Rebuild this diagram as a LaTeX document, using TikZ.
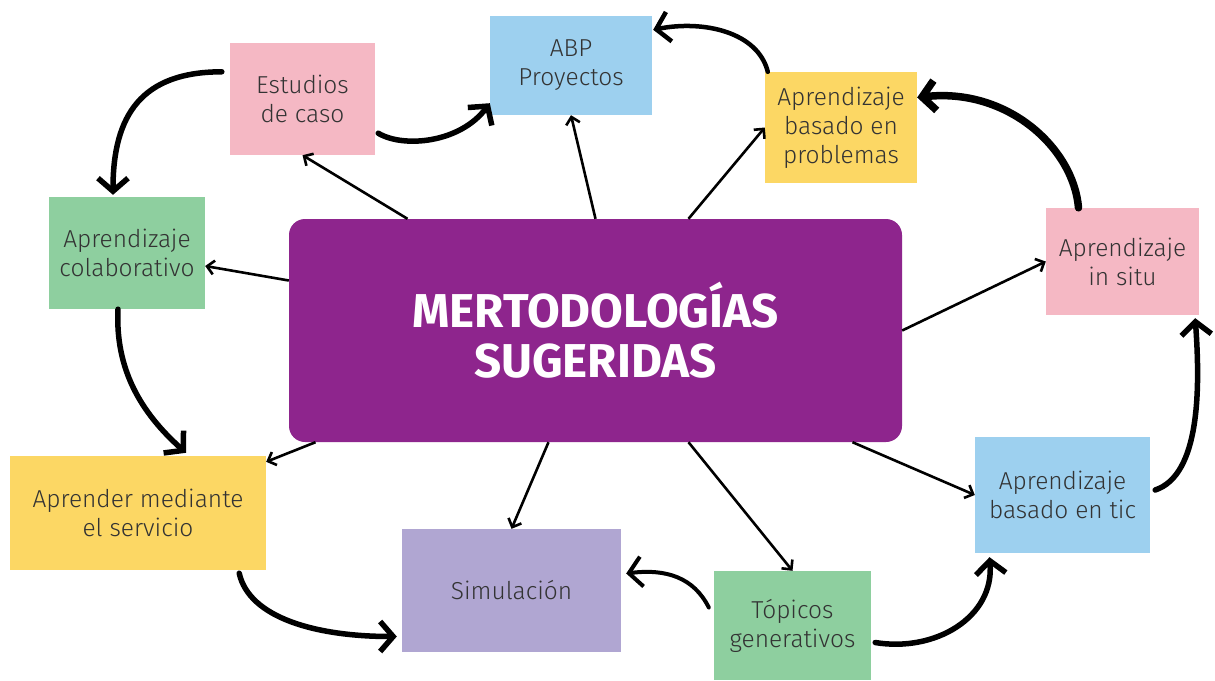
\documentclass[tikz,border=0pt]{standalone}
\usepackage{fontspec}
\setmainfont{Fira Sans}[UprightFont=* Light, BoldFont=* Bold]
\usetikzlibrary{arrows.meta}
\definecolor{rosa}{HTML}{F5B8C4}
\definecolor{celeste}{HTML}{9DD0EF}
\definecolor{amarillo}{HTML}{FCD764}
\definecolor{verde}{HTML}{8ECF9F}
\definecolor{lila}{HTML}{B0A6D2}
\definecolor{morado}{HTML}{8E258D}
\definecolor{gristexto}{HTML}{333333}
\tikzset{
  caja/.style={fill=#1, text=gristexto, align=center, inner sep=0pt,
    font=\fontsize{24.5}{29}\selectfont},
  flecha/.style={line width=2.6pt, -{Straight Barb[length=7pt,width=14pt]}},
  curva/.style={line width=5.5pt, line cap=round,
    -{Straight Barb[length=13pt,width=30pt]}},
}

\begin{document}
\begin{tikzpicture}[x=1pt,y=-1pt]
    \fill[white] (0,0) rectangle (1215,680);
    \useasboundingbox (0,0) rectangle (1215,680);
    % recuadros
    \node[fill=morado, rounded corners=16pt, minimum width=613pt, minimum height=223pt,
      text=white, align=center, font=\bfseries\fontsize{47.5}{50}\selectfont] (mid) at (595.5,330.5) {MERTODOLOGÍAS\\SUGERIDAS};
    \node[caja=rosa, minimum width=145pt, minimum height=112pt] (estudios) at (302.5,99) {Estudios\\de caso};
    \node[caja=celeste, minimum width=162pt, minimum height=99pt] (abp) at (571,65.5) {ABP\\Proyectos};
    \node[caja=amarillo, minimum width=152pt, minimum height=111pt] (problemas) at (841,127.5) {Aprendizaje\\basado en\\problemas};
    \node[caja=verde, minimum width=156pt, minimum height=112pt] (colab) at (127,253) {Aprendizaje\\colaborativo};
    \node[caja=rosa, minimum width=153pt, minimum height=107pt] (insitu) at (1122.5,261.5) {Aprendizaje\\in situ};
    \node[caja=amarillo, minimum width=256pt, minimum height=114pt] (aprender) at (138,513) {Aprender mediante\\el servicio};
    \node[caja=lila, minimum width=219pt, minimum height=123pt] (simul) at (511.5,590.5) {Simulación};
    \node[caja=verde, minimum width=157pt, minimum height=109pt] (topicos) at (792.5,625.5) {Tópicos\\generativos};
    \node[caja=celeste, minimum width=175pt, minimum height=116pt] (tic) at (1062.5,495) {Aprendizaje\\basado en tic};
    % flechas desde el centro
    \draw[flecha] ([xshift=-188pt]mid.north) -- (estudios.south);
    \draw[flecha] (mid.north) -- (abp.south);
    \draw[flecha] ([xshift=93pt]mid.north) -- (problemas.west);
    \draw[flecha] ([shift={(0,-50)}]mid.west) -- ([shift={(0,13)}]colab.east);
    \draw[flecha] (mid.east) -- (insitu.west);
    \draw[flecha] ([xshift=-280pt]mid.south) -- ([shift={(0,6)}]aprender.north east);
    \draw[flecha] ([xshift=-47pt]mid.south) -- (simul.north);
    \draw[flecha] ([xshift=93pt]mid.south) -- (topicos.north);
    \draw[flecha] ([xshift=257pt]mid.south) -- (tic.west);
    % ciclo exterior
    \draw[curva] ([shift={(-8,29)}]estudios.north west) .. controls +(-80,0) and +(0,-80) .. ([shift={(-14,-2)}]colab.north);
    \draw[curva] ([shift={(-9,0)}]colab.south) .. controls +(-3,60) and +(-45,-40) .. ([shift={(48,-3)}]aprender.north);
    \draw[curva] ([shift={(-27,3)}]aprender.south east) .. controls +(10,45) and +(-80,0) .. ([shift={(-5,46)}]simul.west);
    \draw[curva, line width=4pt] ([shift={(-5,-18)}]topicos.west) .. controls +(-15,-30) and +(40,-5) .. ([shift={(5,-17)}]simul.east);
    \draw[curva] ([shift={(4,17)}]topicos.east) .. controls +(60,10) and +(5,60) .. ([shift={(-73,4)}]tic.south);
    \draw[curva] ([shift={(5,-5)}]tic.east) .. controls +(45,-15) and +(5,70) .. ([shift={(-4,3)}]insitu.south east);
    \draw[curva, line width=7.5pt] ([shift={(-44,0)}]insitu.north) .. controls +(-5,-60) and +(90,-10) .. ([shift={(0,-30)}]problemas.east);
    \draw[curva, line width=4.5pt] ([shift={(3,0)}]problemas.north west) .. controls +(-10,-40) and +(50,-10) .. ([shift={(1,14)}]abp.north east);
    \draw[curva] ([shift={(3,-22)}]estudios.south east) .. controls +(25,15) and +(-30,40) .. ([shift={(0,-12)}]abp.south west);
\end{tikzpicture}
\end{document}
